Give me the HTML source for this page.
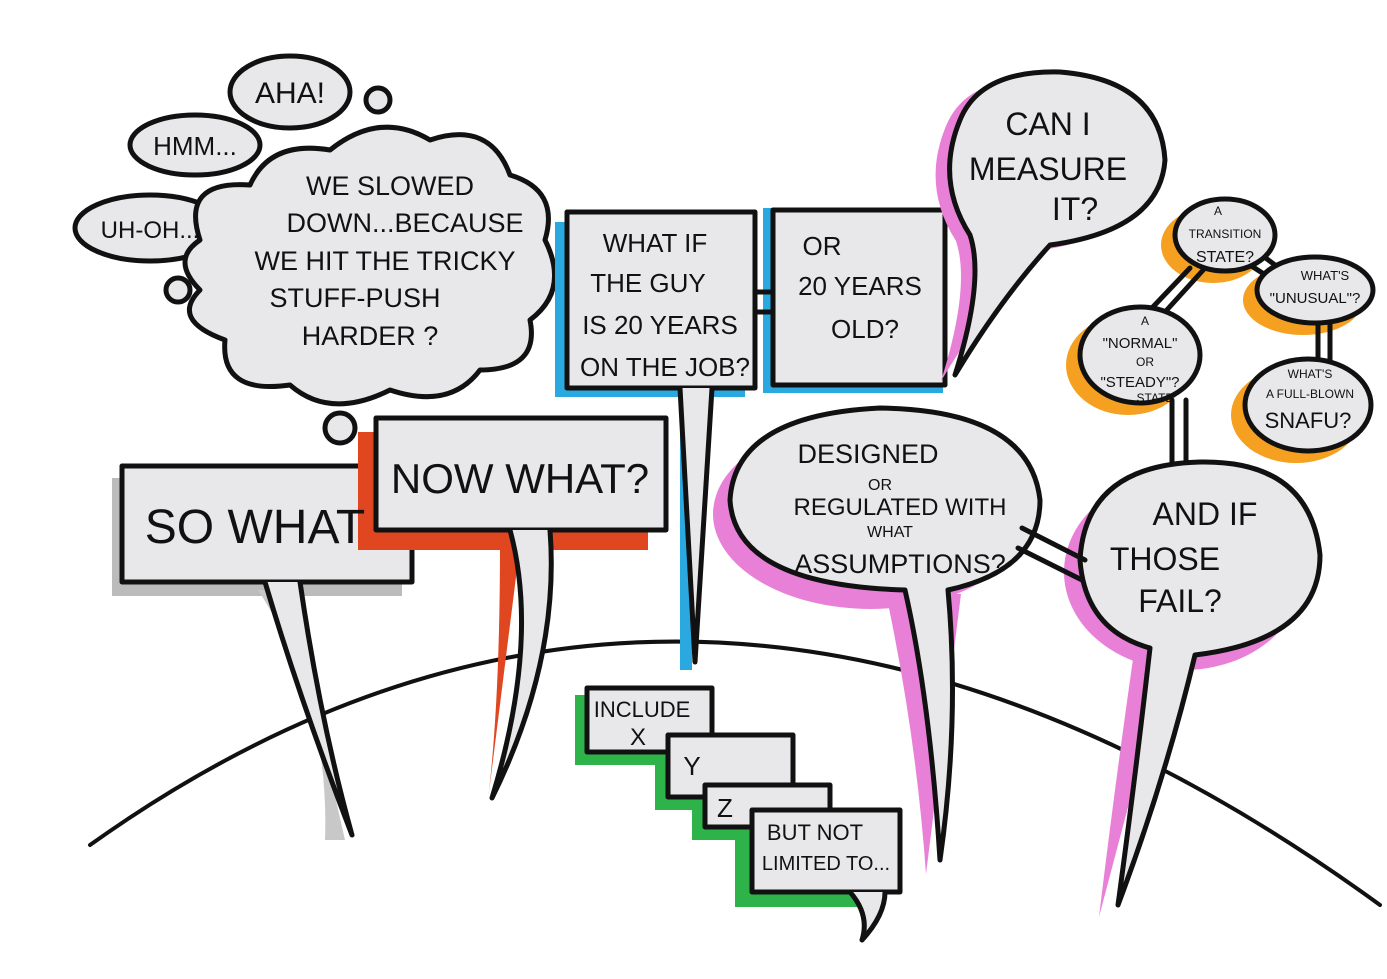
<!DOCTYPE html>
<html><head><meta charset="utf-8"><style>
html,body{margin:0;padding:0;background:#fff;}
svg{display:block}
text{font-family:"Liberation Sans Narrow","Liberation Sans",sans-serif;fill:#111;text-anchor:middle}
</style></head><body>
<svg width="1387" height="979" viewBox="0 0 1387 979" xmlns="http://www.w3.org/2000/svg">
<g stroke="#111" stroke-width="5" stroke-linejoin="round" stroke-linecap="round">
<path d="M90,845 Q700,410 1380,905" fill="none" stroke-width="4"/>

<g fill="#e8e8ea">
<ellipse cx="290" cy="92" rx="60" ry="36"/>
<ellipse cx="195" cy="145" rx="65" ry="30"/>
<ellipse cx="150" cy="228" rx="75" ry="33"/>
<circle cx="378" cy="100" r="12"/>
<circle cx="178" cy="290" r="12"/>
<circle cx="340" cy="428" r="15"/>
<path d="M200,240 Q180,180 250,185 Q270,140 330,150 Q380,110 430,140 Q490,120 510,175 Q560,190 545,240 Q570,290 530,320 Q540,370 480,370 Q450,410 390,390 Q330,420 290,385 Q220,395 225,340 Q170,320 200,290 Q170,260 200,240 Z"/>
</g>

<rect x="112" y="478" width="290" height="118" fill="#bbb" stroke="none"/>
<path d="M258,590 Q330,700 325,840 L345,840 Q310,690 300,590 Z" fill="#c8c8c8" stroke="none"/>
<rect x="122" y="466" width="290" height="116" fill="#e8e8ea"/>
<path d="M265,582 Q300,700 352,835 Q320,720 300,582" fill="#e8e8ea"/>

<rect x="358" y="432" width="290" height="118" fill="#e0461f" stroke="none"/>
<path d="M500,545 Q500,700 488,800 L520,545 Z" fill="#e0461f" stroke="none"/>
<rect x="376" y="418" width="290" height="112" fill="#e8e8ea"/>
<path d="M510,530 Q540,640 492,798 Q560,660 550,530" fill="#e8e8ea"/>

<rect x="555" y="222" width="190" height="175" fill="#2aa8e0" stroke="none"/>
<rect x="680" y="390" width="12" height="280" fill="#2aa8e0" stroke="none"/>
<rect x="763" y="208" width="180" height="185" fill="#2aa8e0" stroke="none"/>
<rect x="567" y="212" width="188" height="176" fill="#e8e8ea"/>
<path d="M680,388 L695,662 L712,388" fill="#e8e8ea"/>
<rect x="773" y="210" width="172" height="175" fill="#e8e8ea"/>
<path d="M755,292 L773,292 M755,312 L773,312" fill="none"/>

<path d="M960,120 Q980,70 1060,72 Q1160,80 1165,160 Q1160,230 1050,245 Q1000,300 955,375 Q985,280 970,235 Q935,180 960,120Z" fill="#e880d8" stroke="none" transform="translate(-14,6)"/>
<path d="M960,120 Q980,70 1060,72 Q1160,80 1165,160 Q1160,230 1050,245 Q1000,300 955,375 Q985,280 970,235 Q935,180 960,120Z" fill="#e8e8ea"/>

<g transform="translate(-14,14)" fill="#e880d8" stroke="none">
<ellipse cx="885" cy="500" rx="158" ry="95"/>
<path d="M900,580 Q930,720 940,860 L975,580Z"/>
</g>
<path d="M905,590 Q930,700 940,860 Q960,720 948,590 Q1040,570 1040,500 Q1030,410 880,408 Q735,415 730,500 Q735,585 905,590Z" fill="#e8e8ea"/>

<g fill="#f5a020" stroke="none" transform="translate(-12,10)">
<ellipse cx="1225" cy="235" rx="52" ry="38"/>
<ellipse cx="1315" cy="290" rx="60" ry="35"/>
<ellipse cx="1140" cy="355" rx="62" ry="50"/>
<ellipse cx="1308" cy="405" rx="65" ry="48"/>
</g>
<g fill="#e8e8ea">
<path d="M1190,268 L1150,310 M1205,268 L1165,312" fill="none"/>
<path d="M1255,250 L1275,265 M1250,265 L1270,278" fill="none"/>
<path d="M1318,322 L1318,360 M1330,322 L1330,360" fill="none"/>
<ellipse cx="1225" cy="235" rx="50" ry="36"/>
<ellipse cx="1315" cy="290" rx="58" ry="33"/>
<ellipse cx="1140" cy="355" rx="60" ry="48"/>
<ellipse cx="1308" cy="405" rx="63" ry="46"/>
<path d="M1172,400 L1172,465 M1186,400 L1186,465" fill="none"/>
</g>

<g transform="translate(-16,12)" fill="#e880d8" stroke="none">
<ellipse cx="1200" cy="560" rx="120" ry="98"/>
<path d="M1150,640 Q1130,780 1115,905 L1185,640Z"/>
</g>
<path d="M1150,648 Q1135,780 1118,905 Q1165,780 1195,655 Q1320,640 1320,555 Q1310,460 1200,462 Q1085,465 1080,560 Q1085,630 1150,648Z" fill="#e8e8ea"/>
<path d="M1022,528 L1085,560 M1018,548 L1082,580" fill="none"/>

<g fill="#2db34a" stroke="none">
<rect x="575" y="695" width="125" height="70"/>
<rect x="655" y="745" width="125" height="65"/>
<rect x="692" y="795" width="125" height="45"/>
<rect x="735" y="822" width="150" height="85"/>
</g>
<rect x="587" y="688" width="125" height="64" fill="#e8e8ea"/>
<rect x="668" y="735" width="125" height="62" fill="#e8e8ea"/>
<rect x="705" y="785" width="125" height="42" fill="#e8e8ea"/>
<rect x="752" y="810" width="148" height="82" fill="#e8e8ea"/>
<path d="M850,892 Q870,915 862,940 Q885,915 885,892" fill="#e8e8ea"/>
</g>

<text x="290" y="103" font-size="30">AHA!</text>
<text x="195" y="155" font-size="26">HMM...</text>
<text x="150" y="238" font-size="24">UH-OH...</text>
<g font-size="27">
<text x="390" y="195">WE SLOWED</text>
<text x="405" y="232">DOWN...BECAUSE</text>
<text x="385" y="270">WE HIT THE TRICKY</text>
<text x="355" y="307">STUFF-PUSH</text>
<text x="370" y="345">HARDER ?</text>
</g>
<text x="255" y="543" font-size="48">SO WHAT</text>
<text x="520" y="493" font-size="42">NOW WHAT?</text>
<g font-size="26">
<text x="655" y="252">WHAT IF</text>
<text x="648" y="292">THE GUY</text>
<text x="660" y="334">IS 20 YEARS</text>
<text x="665" y="376">ON THE JOB?</text>
<text x="822" y="255">OR</text>
<text x="860" y="295">20 YEARS</text>
<text x="865" y="338">OLD?</text>
<text x="1048" y="135" font-size="32">CAN I</text>
<text x="1048" y="180" font-size="32">MEASURE</text>
<text x="1075" y="220" font-size="32">IT?</text>
<text x="868" y="463" font-size="27">DESIGNED</text>
<text x="880" y="490" font-size="16">OR</text>
<text x="900" y="515" font-size="24">REGULATED WITH</text>
<text x="890" y="537" font-size="16">WHAT</text>
<text x="900" y="573" font-size="27">ASSUMPTIONS?</text>
<text x="1205" y="525" font-size="32">AND IF</text>
<text x="1165" y="570" font-size="32">THOSE</text>
<text x="1180" y="612" font-size="32">FAIL?</text>
</g>
<g font-size="12">
<text x="1218" y="215">A</text>
<text x="1225" y="238">TRANSITION</text>
<text x="1225" y="262" font-size="16">STATE?</text>
<text x="1325" y="280" font-size="13">WHAT'S</text>
<text x="1315" y="303" font-size="15">"UNUSUAL"?</text>
<text x="1145" y="325">A</text>
<text x="1140" y="348" font-size="15">"NORMAL"</text>
<text x="1145" y="366">OR</text>
<text x="1140" y="387" font-size="15">"STEADY"?</text>
<text x="1155" y="402">STATE</text>
<text x="1310" y="378">WHAT'S</text>
<text x="1310" y="398">A FULL-BLOWN</text>
<text x="1308" y="428" font-size="22">SNAFU?</text>
</g>
<text x="642" y="717" font-size="22">INCLUDE</text>
<text x="638" y="745" font-size="24">X</text>
<text x="692" y="775" font-size="26">Y</text>
<text x="725" y="817" font-size="26">Z</text>
<text x="815" y="840" font-size="22">BUT NOT</text>
<text x="826" y="870" font-size="20">LIMITED TO...</text>
</svg>
</body></html>
